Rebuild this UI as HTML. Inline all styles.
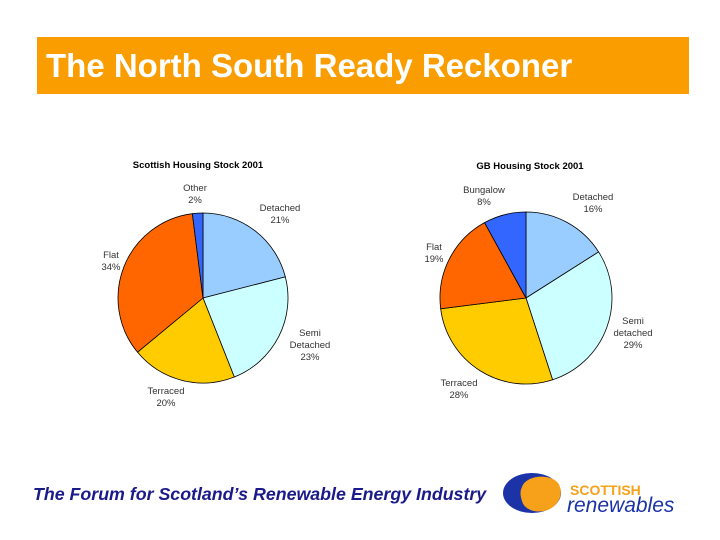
<!DOCTYPE html>
<html><head><meta charset="utf-8"><style>
body{margin:0;width:720px;height:540px;background:#fff;overflow:hidden;position:relative;font-family:"Liberation Sans",sans-serif}
#hdr{position:absolute;left:37px;top:37px;width:652px;height:57px;background:#f99d00}
#hdr span{position:absolute;left:9px;top:10px;color:#fff;font-weight:bold;font-size:33px;white-space:nowrap}
#foot{position:absolute;left:33px;top:484px;color:#1a1a8a;font-style:italic;font-weight:bold;font-size:17.8px;white-space:nowrap}
</style></head><body>
<div id="hdr"><span>The North South Ready Reckoner</span></div>
<svg id="chart" width="720" height="540" style="position:absolute;left:0;top:0">
<text x="198" y="168" font-size="9.5" font-weight="bold" text-anchor="middle" fill="#000">Scottish Housing Stock 2001</text>
<text x="530" y="169" font-size="9.5" font-weight="bold" text-anchor="middle" fill="#000">GB Housing Stock 2001</text>
<g id="pies"></g>
</svg>
<div id="foot">The Forum for Scotland’s Renewable Energy Industry</div>
<svg width="190" height="60" style="position:absolute;left:500px;top:465px">
<ellipse cx="32" cy="28" rx="29" ry="20" fill="#1c33a8"/>
<path d="M22 22 C26 10,50 8,58 18 C66 30,56 44,44 46 C34 48,24 44,22 36 C20 30,20 26,22 22Z" fill="#f7a11a"/>
<text x="70" y="30" font-size="14" font-weight="bold" fill="#f7a11a">SCOTTISH</text>
<text x="67" y="47" font-size="21" font-style="italic" fill="#1c33a8">renewables</text>
</svg>
<script>
const scotCategories=["Detached","Semi Detached","Terraced","Flat","Other"];
const scotValues=[21,23,20,34,2];
const gbCategories=["Detached","Semi detached","Terraced","Flat","Bungalow"];
const gbValues=[16,29,28,19,8];
const colors=["#99ccff","#ccffff","#ffcc00","#ff6600","#3366ff"];
const NS="http://www.w3.org/2000/svg";
const g=document.getElementById("pies");
function drawPie(cx,cy,rx,ry,cats,vals,labelPos,prefix){
  const tot=vals.reduce((a,b)=>a+b,0);let a0=-Math.PI/2;
  vals.forEach((v,i)=>{
    const a1=a0+v/tot*2*Math.PI;
    const x0=cx+rx*Math.cos(a0),y0=cy+ry*Math.sin(a0),x1=cx+rx*Math.cos(a1),y1=cy+ry*Math.sin(a1);
    const p=document.createElementNS(NS,"path");
    p.setAttribute("d",`M${cx},${cy}L${x0},${y0}A${rx},${ry} 0 ${a1-a0>Math.PI?1:0} 1 ${x1},${y1}Z`);
    p.setAttribute("fill",colors[i]);p.setAttribute("stroke","#000");p.setAttribute("stroke-width","0.8");
    
    
    g.appendChild(p);
    const lp=labelPos[i];const lines=cats[i].split(" ").concat([v+"%"]);
    const t=document.createElementNS(NS,"text");
    t.setAttribute("font-size","9.5");t.setAttribute("text-anchor","middle");t.setAttribute("fill","#333");
    lines.forEach((s,k)=>{const ts=document.createElementNS(NS,"tspan");ts.setAttribute("x",lp[0]);ts.setAttribute("y",lp[1]+k*12);ts.textContent=s;t.appendChild(ts);});
    
    
    g.appendChild(t);
    a0=a1;
  });
}
drawPie(203,298,85,85,scotCategories,scotValues,[[280,211],[310,336],[166,394],[111,258],[195,191]],"scotland");
drawPie(526,298,86,86,gbCategories,gbValues,[[593,200],[633,324],[459,386],[434,250],[484,193]],"gb");
</script>
</body></html>
